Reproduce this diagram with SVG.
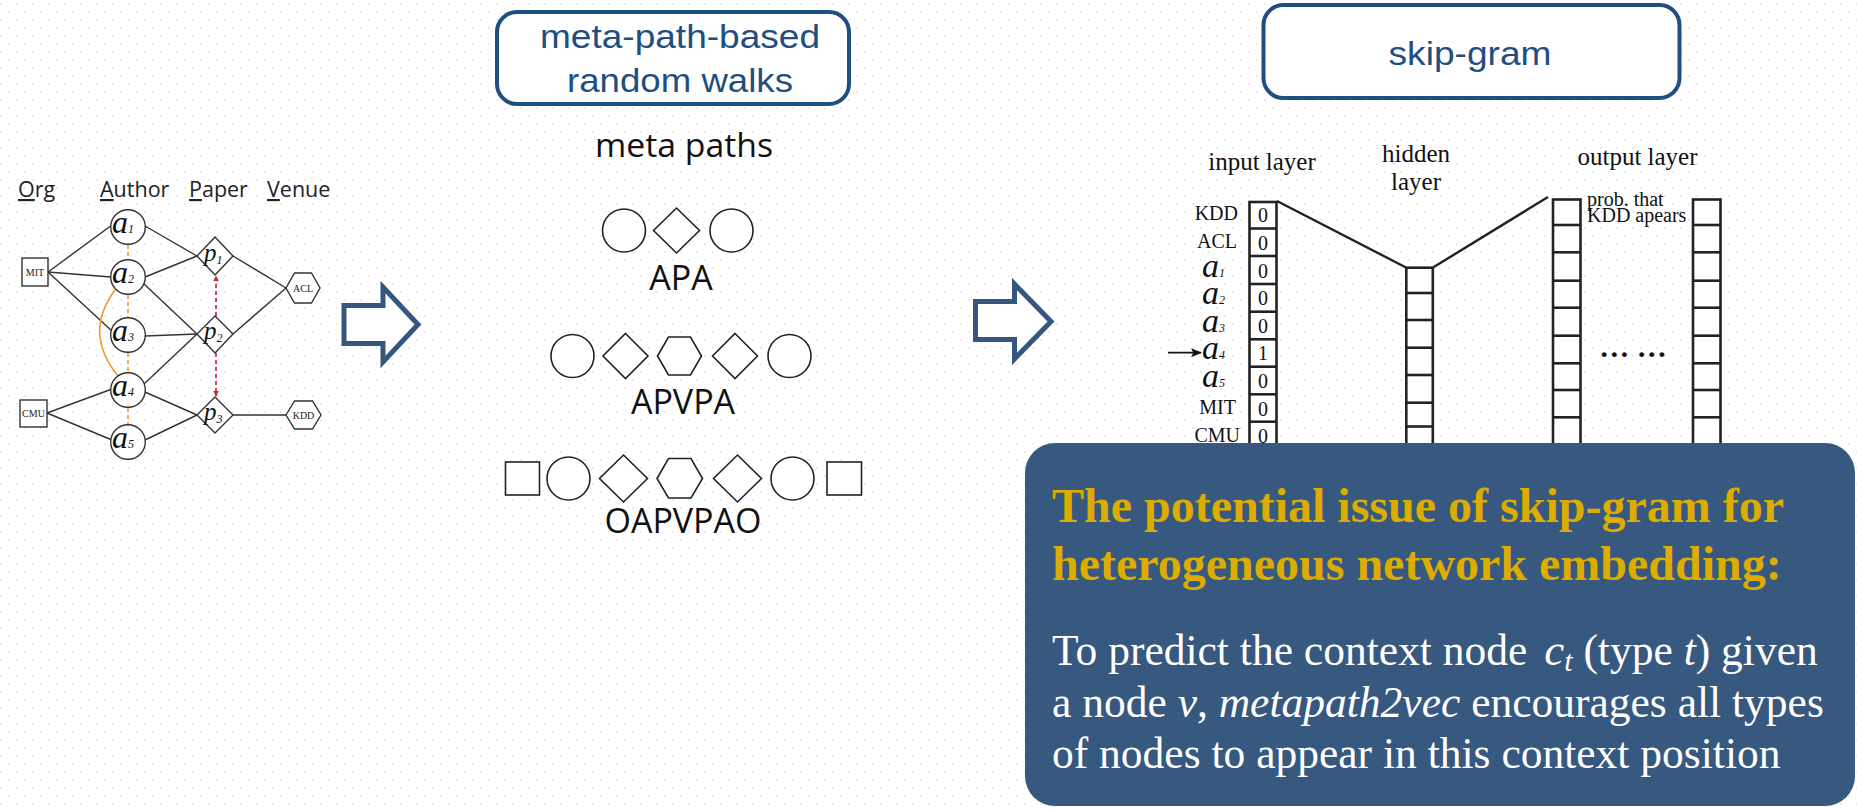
<svg xmlns="http://www.w3.org/2000/svg" width="1857" height="809" viewBox="0 0 1857 809">
<defs>
<pattern id="dots" x="0" y="0" width="16" height="16" patternUnits="userSpaceOnUse">
<rect x="0" y="3" width="2" height="2" fill="#ececec"/>
<rect x="8" y="11" width="2" height="2" fill="#ececec"/>
</pattern>
<marker id="redhead" viewBox="0 0 10 10" refX="9" refY="5" markerWidth="6" markerHeight="6" orient="auto" markerUnits="userSpaceOnUse">
<path d="M0,0 L10,5 L0,10 z" fill="#c8283a"/>
</marker>
<marker id="blkhead" viewBox="0 0 10 10" refX="9" refY="5" markerWidth="11" markerHeight="9" orient="auto" markerUnits="userSpaceOnUse" preserveAspectRatio="none">
<path d="M0,0 L10,5 L0,10 L2,5 z" fill="#111"/>
</marker>
</defs>
<style>
.sh{fill:#fff;stroke:#222;stroke-width:1.6}
.gs{fill:#fff;stroke:#333;stroke-width:1.4}
.ge{stroke:#333;stroke-width:1.4;fill:none}
.or{stroke:#f29a2e;stroke-width:1.6;fill:none}
.ordash{stroke:#f29a2e;stroke-width:1.6;stroke-dasharray:4 3;fill:none}
.rd{stroke:#c8283a;stroke-width:1.7;stroke-dasharray:4 3;fill:none}
.hdr{font-family:"Open Sans","Noto Sans",sans-serif;font-size:21.5px;fill:#222}
.it{font-family:"Liberation Serif",serif;font-style:italic;fill:#111}
.sm{font-family:"Liberation Serif",serif;font-size:10px;fill:#222}
.mp{font-family:"Open Sans","Noto Sans",sans-serif;fill:#111}
.box{fill:#fff;stroke:#1f4e80;stroke-width:4}
.boxt{font-family:"Liberation Sans",Arial,sans-serif;font-size:34px;fill:#1f4e80}
.arr{fill:#fff;stroke:#35577f;stroke-width:5;stroke-linejoin:miter;stroke-miterlimit:10}
.nn{font-family:"Liberation Serif",serif;fill:#111}
.col{fill:#fff;stroke:#222;stroke-width:2.6}
.cl{stroke:#222;stroke-width:2.6}
.hd{font-family:"Liberation Serif",serif;font-weight:bold;font-size:48px;fill:#dcac00}
.bd{font-family:"Liberation Serif",serif;font-size:43.5px;fill:#fff}
</style>
<rect x="0" y="0" width="1857" height="809" fill="#fff"/>
<rect x="0" y="0" width="1857" height="809" fill="url(#dots)"/>

<!-- Heterogeneous network graph -->
<g id="graph-headers">
<text class="hdr" x="18" y="197"><tspan text-decoration="underline">O</tspan>rg</text>
<text class="hdr" x="100" y="197"><tspan text-decoration="underline">A</tspan>uthor</text>
<text class="hdr" x="189" y="197"><tspan text-decoration="underline">P</tspan>aper</text>
<text class="hdr" x="267" y="197"><tspan text-decoration="underline">V</tspan>enue</text>
</g>
<g id="graph-edges">
<line class="ge" x1="48" y1="272" x2="112" y2="225"/>
<line class="ge" x1="48" y1="272" x2="111" y2="277"/>
<line class="ge" x1="48" y1="272" x2="113" y2="332"/>
<line class="ge" x1="47" y1="413" x2="112" y2="389"/>
<line class="ge" x1="47" y1="413" x2="112" y2="440"/>
<line class="ge" x1="145" y1="226" x2="197" y2="256"/>
<line class="ge" x1="145" y1="277" x2="197" y2="256"/>
<line class="ge" x1="143" y1="283" x2="197" y2="334"/>
<line class="ge" x1="145" y1="336" x2="197" y2="334"/>
<line class="ge" x1="144" y1="384" x2="197" y2="334"/>
<line class="ge" x1="145" y1="392" x2="197" y2="415"/>
<line class="ge" x1="145" y1="440" x2="197" y2="415"/>
<line class="ge" x1="233" y1="256" x2="286" y2="288"/>
<line class="ge" x1="233" y1="334" x2="286" y2="288"/>
<line class="ge" x1="233" y1="415" x2="286" y2="415"/>
<line class="ordash" x1="128" y1="245" x2="128" y2="259"/>
<line class="ordash" x1="128" y1="295" x2="128" y2="317"/>
<line class="ordash" x1="128" y1="353" x2="128" y2="372"/>
<line class="ordash" x1="128" y1="408" x2="128" y2="424"/>
<path class="or" d="M115,290 Q83,333 118,376"/>
<line class="rd" x1="216" y1="316" x2="216" y2="276" marker-end="url(#redhead)"/>
<line class="rd" x1="216" y1="353" x2="216" y2="396" marker-end="url(#redhead)"/>
</g>
<g id="org-mit"><rect class="gs" x="22" y="258" width="26" height="28"/><text class="sm" x="35" y="275.5" text-anchor="middle">MIT</text></g>
<g id="org-cmu"><rect class="gs" x="20" y="400" width="27" height="27"/><text class="sm" x="33.5" y="417" text-anchor="middle">CMU</text></g>
<g id="a1"><circle class="gs" cx="128" cy="227" r="17.3"/><text class="it" x="112" y="233" font-size="32">a<tspan font-size="12">1</tspan></text></g>
<g id="a2"><circle class="gs" cx="128" cy="277" r="17.3"/><text class="it" x="112" y="283" font-size="32">a<tspan font-size="12">2</tspan></text></g>
<g id="a3"><circle class="gs" cx="128" cy="335" r="17.3"/><text class="it" x="112" y="341" font-size="32">a<tspan font-size="12">3</tspan></text></g>
<g id="a4"><circle class="gs" cx="128" cy="390" r="17.3"/><text class="it" x="112" y="396" font-size="32">a<tspan font-size="12">4</tspan></text></g>
<g id="a5"><circle class="gs" cx="128" cy="442" r="17.3"/><text class="it" x="112" y="448" font-size="32">a<tspan font-size="12">5</tspan></text></g>
<g id="p1"><polygon class="gs" points="215,237 233,256 215,275 197,256"/><text class="it" x="204" y="261" font-size="25">p<tspan font-size="12" dy="3">1</tspan></text></g>
<g id="p2"><polygon class="gs" points="215,316 233,334 215,353 197,334"/><text class="it" x="204" y="339" font-size="25">p<tspan font-size="12" dy="3">2</tspan></text></g>
<g id="p3"><polygon class="gs" points="215,397 233,415 215,433 197,415"/><text class="it" x="204" y="420" font-size="25">p<tspan font-size="12" dy="3">3</tspan></text></g>
<g id="v-acl"><polygon class="gs" points="286,288 294.5,273 311.5,273 320,288 311.5,303 294.5,303"/><text class="sm" x="303" y="291.5" text-anchor="middle">ACL</text></g>
<g id="v-kdd"><polygon class="gs" points="286,415 294.5,401 312.5,401 321,415 312.5,429 294.5,429"/><text class="sm" x="303.5" y="418.5" text-anchor="middle">KDD</text></g>

<!-- arrows -->
<g id="arrow1"><polygon class="arr" points="344,305.5 383,305.5 383,287 418,324.5 383,362 383,343.5 344,343.5"/></g>
<g id="arrow2"><polygon class="arr" points="975.5,301.5 1014.5,301.5 1014.5,284 1051,321.5 1014.5,359 1014.5,339.5 975.5,339.5"/></g>

<!-- meta-path box -->
<g id="box-metapath">
<rect class="box" x="497" y="12" width="352" height="92" rx="20"/>
<text class="boxt" x="680" y="48" text-anchor="middle" textLength="280" lengthAdjust="spacingAndGlyphs">meta-path-based</text>
<text class="boxt" x="680" y="92" text-anchor="middle" textLength="226" lengthAdjust="spacingAndGlyphs">random walks</text>
</g>
<g id="metapaths">
<text class="mp" x="684" y="157" font-size="32" text-anchor="middle" textLength="178" lengthAdjust="spacingAndGlyphs">meta paths</text>
<g id="mp-apa">
<circle class="sh" cx="624" cy="230.5" r="21.5"/>
<polygon class="sh" points="676.5,208 699.5,230.5 676.5,253 653.5,230.5"/>
<circle class="sh" cx="731.5" cy="230.5" r="21.5"/>
<text class="mp" x="681" y="290" font-size="34" text-anchor="middle">APA</text>
</g>
<g id="mp-apvpa">
<circle class="sh" cx="572.5" cy="356" r="21.5"/>
<polygon class="sh" points="625.5,333.5 648,356 625.5,378.5 603,356"/>
<polygon class="sh" points="657.5,356 668.5,337 690.5,337 701.5,356 690.5,375 668.5,375"/>
<polygon class="sh" points="735,333.5 757.5,356 735,378.5 712.5,356"/>
<circle class="sh" cx="789.5" cy="356" r="21.5"/>
<text class="mp" x="683" y="414" font-size="34" text-anchor="middle">APVPA</text>
</g>
<g id="mp-oapvpao">
<rect class="sh" x="505.5" y="462" width="34" height="33"/>
<circle class="sh" cx="568.5" cy="478.5" r="21.5"/>
<polygon class="sh" points="623.5,455 647.5,478.5 623.5,502 599.5,478.5"/>
<polygon class="sh" points="657,478.5 668.5,458.5 691,458.5 702.5,478.5 691,498 668.5,498"/>
<polygon class="sh" points="737.5,455 761.5,478.5 737.5,502 713.5,478.5"/>
<circle class="sh" cx="792.5" cy="478.5" r="21.5"/>
<rect class="sh" x="827" y="462" width="34.5" height="33"/>
<text class="mp" x="683" y="533" font-size="34" text-anchor="middle">OAPVPAO</text>
</g>
</g>

<!-- skip-gram box -->
<g id="box-skipgram">
<rect class="box" x="1263.5" y="5" width="416" height="93" rx="20"/>
<text class="boxt" x="1470" y="65" text-anchor="middle" textLength="163" lengthAdjust="spacingAndGlyphs">skip-gram</text>
</g>

<!-- skip-gram network -->
<g id="nn-connectors">
<line class="ge" style="stroke:#222;stroke-width:2.4" x1="1277" y1="201" x2="1406" y2="267.5"/>
<line class="ge" style="stroke:#222;stroke-width:2.4" x1="1433" y1="267.5" x2="1548" y2="197"/>
<line x1="1168" y1="352.7" x2="1201" y2="352.7" stroke="#111" stroke-width="1.8" marker-end="url(#blkhead)"/>
</g>
<g id="input-layer">
<text class="nn" x="1262" y="170" font-size="25" text-anchor="middle">input layer</text>
<rect class="col" x="1249.5" y="202" width="27" height="280"/>
<line class="cl" x1="1249.5" y1="228.5" x2="1276.5" y2="228.5"/>
<line class="cl" x1="1249.5" y1="256" x2="1276.5" y2="256"/>
<line class="cl" x1="1249.5" y1="284" x2="1276.5" y2="284"/>
<line class="cl" x1="1249.5" y1="311.7" x2="1276.5" y2="311.7"/>
<line class="cl" x1="1249.5" y1="339.3" x2="1276.5" y2="339.3"/>
<line class="cl" x1="1249.5" y1="366.7" x2="1276.5" y2="366.7"/>
<line class="cl" x1="1249.5" y1="394.3" x2="1276.5" y2="394.3"/>
<line class="cl" x1="1249.5" y1="421.7" x2="1276.5" y2="421.7"/>
<line class="cl" x1="1249.5" y1="449.3" x2="1276.5" y2="449.3"/>
<g font-family="Liberation Serif, serif" font-size="20" fill="#111" text-anchor="middle">
<text x="1263" y="222">0</text><text x="1263" y="249.5">0</text><text x="1263" y="277.5">0</text><text x="1263" y="305">0</text><text x="1263" y="332.5">0</text><text x="1263" y="360">1</text><text x="1263" y="388">0</text><text x="1263" y="415.5">0</text><text x="1263" y="443">0</text>
</g>
<g font-family="Liberation Serif, serif" font-size="20" fill="#111" text-anchor="end">
<text x="1238" y="220">KDD</text><text x="1237" y="247.5">ACL</text><text x="1236" y="413.5">MIT</text><text x="1240" y="441.5">CMU</text>
</g>
<g class="it" font-size="34">
<text x="1202" y="276.5">a<tspan font-size="12">1</tspan></text>
<text x="1202" y="304">a<tspan font-size="12">2</tspan></text>
<text x="1202" y="331.5">a<tspan font-size="12">3</tspan></text>
<text x="1202" y="359">a<tspan font-size="12">4</tspan></text>
<text x="1202" y="386.5">a<tspan font-size="12">5</tspan></text>
</g>
</g>
<g id="hidden-layer">
<text class="nn" x="1416" y="161.5" font-size="25" text-anchor="middle">hidden</text>
<text class="nn" x="1416" y="190" font-size="25" text-anchor="middle">layer</text>
<rect class="col" x="1406.3" y="267.7" width="26.5" height="214"/>
<line class="cl" x1="1406.3" y1="293" x2="1432.8" y2="293"/>
<line class="cl" x1="1406.3" y1="320" x2="1432.8" y2="320"/>
<line class="cl" x1="1406.3" y1="347.7" x2="1432.8" y2="347.7"/>
<line class="cl" x1="1406.3" y1="375" x2="1432.8" y2="375"/>
<line class="cl" x1="1406.3" y1="402.7" x2="1432.8" y2="402.7"/>
<line class="cl" x1="1406.3" y1="426.5" x2="1432.8" y2="426.5"/>
</g>
<g id="output-layer">
<text class="nn" x="1637.5" y="165" font-size="25" text-anchor="middle">output layer</text>
<rect class="col" x="1553" y="199.5" width="27.5" height="280"/>
<rect class="col" x="1693" y="199.5" width="27.5" height="280"/>
<g class="cl">
<line x1="1553" y1="225" x2="1580.5" y2="225"/><line x1="1553" y1="252.3" x2="1580.5" y2="252.3"/><line x1="1553" y1="280.7" x2="1580.5" y2="280.7"/><line x1="1553" y1="307.7" x2="1580.5" y2="307.7"/><line x1="1553" y1="335.7" x2="1580.5" y2="335.7"/><line x1="1553" y1="363.3" x2="1580.5" y2="363.3"/><line x1="1553" y1="390" x2="1580.5" y2="390"/><line x1="1553" y1="417.3" x2="1580.5" y2="417.3"/>
<line x1="1693" y1="225" x2="1720.5" y2="225"/><line x1="1693" y1="252.3" x2="1720.5" y2="252.3"/><line x1="1693" y1="280.7" x2="1720.5" y2="280.7"/><line x1="1693" y1="307.7" x2="1720.5" y2="307.7"/><line x1="1693" y1="335.7" x2="1720.5" y2="335.7"/><line x1="1693" y1="363.3" x2="1720.5" y2="363.3"/><line x1="1693" y1="390" x2="1720.5" y2="390"/><line x1="1693" y1="417.3" x2="1720.5" y2="417.3"/>
</g>
<text class="nn" x="1587" y="206" font-size="20">prob. that</text>
<text class="nn" x="1587" y="221.5" font-size="20">KDD apears</text>
<text class="nn" x="1633" y="357" font-size="30" font-weight="bold" text-anchor="middle">… …</text>
</g>

<!-- issue box -->
<g id="issue-box">
<rect x="1025" y="443" width="830" height="363" rx="30" fill="#37587f"/>
<text class="hd" x="1052" y="521.7">The potential issue of skip-gram for</text>
<text class="hd" x="1052" y="580">heterogeneous network embedding:</text>
<text class="bd" x="1052" y="665">To predict the context node <tspan font-style="italic" font-size="45" dx="6">c</tspan><tspan font-style="italic" font-size="30" dy="6">t</tspan><tspan dy="-6"> (type </tspan><tspan font-style="italic">t</tspan>) given</text>
<text class="bd" x="1052" y="717">a node <tspan font-style="italic">v</tspan>, <tspan font-style="italic">metapath2vec</tspan> encourages all types</text>
<text class="bd" x="1052" y="768">of nodes to appear in this context position</text>
</g>
</svg>
